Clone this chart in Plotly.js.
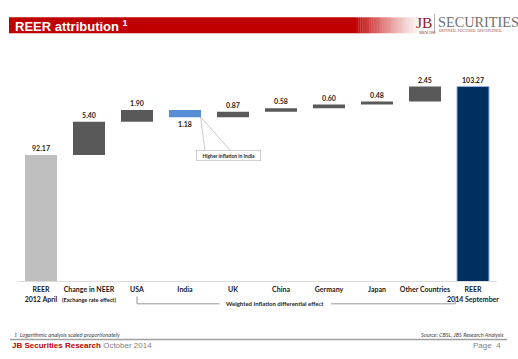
<!DOCTYPE html>
<html>
<head>
<meta charset="utf-8">
<script src="https://cdn.plot.ly/plotly-3.0.1.min.js"></script>
<style>html,body{margin:0;padding:0;background:#fff;}#chart{width:518px;height:359px;}</style>
</head>
<body>
<div id="chart"></div>
<script>
// ---- data ----
const categories = ['REER 2012 April', 'Change in NEER', 'USA', 'India', 'UK', 'China', 'Germany', 'Japan', 'Other Countries', 'REER 2014 September'];
const tickLabels = ['REER<br>2012 April', 'Change in NEER<br><span style="font-size:5.6px">(Exchange rate effect)</span>', 'USA', 'India', 'UK', 'China', 'Germany', 'Japan', 'Other Countries', 'REER<br>2014 September'];
const measures = ['absolute', 'relative', 'relative', 'relative', 'relative', 'relative', 'relative', 'relative', 'relative', 'total'];
const values = [92.17, 5.40, 1.90, -1.18, 0.87, 0.58, 0.60, 0.48, 2.45, 103.27];
const valueLabels = ['92.17', '5.40', '1.90', '1.18', '0.87', '0.58', '0.60', '0.48', '2.45', '103.27'];

// ---- derive waterfall geometry from data ----
const bases = [], heights = [], colors = [], lineW = [], lineC = [];
let running = 0;
values.forEach((v, i) => {
  const m = measures[i];
  if (m === 'absolute') { bases.push(0); heights.push(v); running = v; colors.push('#BFBFBF'); }
  else if (m === 'total') { bases.push(0); heights.push(v); running = v; colors.push('#00305F'); }
  else { bases.push(running); heights.push(v); running += v; colors.push(v < 0 ? '#558ED5' : '#595959'); }
  lineW.push(m === 'total' ? 1 : 0);
  lineC.push(m === 'total' ? '#8DB3E2' : 'rgba(0,0,0,0)');
});

// ---- pixel helpers for page decorations ----
const W = 518, H = 359, ML = 17, MR = 21, MT = 50, MB = 78;
const PW = W - ML - MR, PH = H - MT - MB;
const px = x => (x - ML) / PW;
const py = y => (H - MB - y) / PH;

const shapes = [];
// header red band with fade
shapes.push({type: 'rect', xref: 'paper', yref: 'paper', x0: px(9), x1: px(356), y0: py(33.3), y1: py(17.3), fillcolor: '#C00000', line: {width: 0}, layer: 'below'});
const nStrips = 30;
for (let k = 0; k < nStrips; k++) {
  const x0 = 356 + k * 2.2, x1 = x0 + 2.3;
  shapes.push({type: 'rect', xref: 'paper', yref: 'paper', x0: px(x0), x1: px(x1), y0: py(33.3), y1: py(17.3), fillcolor: '#C00000', opacity: Math.pow(1 - (k + 1) / (nStrips + 1), 1.3), line: {width: 0}, layer: 'below'});
}
// logo separator
shapes.push({type: 'line', xref: 'paper', yref: 'paper', x0: px(434.5), x1: px(434.5), y0: py(14), y1: py(33), line: {color: '#9A9A9A', width: 0.8}});
// bracket under inflation countries
const gy0 = py(296.5), gy1 = py(303.8);
const bcol = '#7F7F7F';
shapes.push({type: 'line', xref: 'x', yref: 'paper', x0: 2, x1: 2, y0: gy0, y1: gy1, line: {color: bcol, width: 0.8}});
shapes.push({type: 'line', xref: 'x', yref: 'paper', x0: 2, x1: 3.72, y0: gy1, y1: gy1, line: {color: bcol, width: 0.8}});
shapes.push({type: 'line', xref: 'x', yref: 'paper', x0: 6.04, x1: 8.63, y0: gy1, y1: gy1, line: {color: bcol, width: 0.8}});
shapes.push({type: 'line', xref: 'x', yref: 'paper', x0: 8.63, x1: 8.63, y0: gy0, y1: gy1, line: {color: bcol, width: 0.8}});
// callout lines from India bar
const indiaBottom = bases[3] + heights[3];
shapes.push({type: 'line', xref: 'x', yref: 'y', x0: 3.325, x1: 3.415, y0: indiaBottom, y1: 92.95, line: {color: '#A6A6A6', width: 0.6}});
shapes.push({type: 'line', xref: 'x', yref: 'y', x0: 3.33, x1: 3.94, y0: indiaBottom, y1: 92.95, line: {color: '#A6A6A6', width: 0.6}});
// footer rule
shapes.push({type: 'line', xref: 'paper', yref: 'paper', x0: px(10), x1: px(507), y0: py(339.5), y1: py(339.5), line: {color: '#A0A0A0', width: 1.5}});

const annotations = [
  {xref: 'paper', yref: 'paper', x: px(13), y: py(25.5), xanchor: 'left', yanchor: 'middle', showarrow: false,
   text: 'REER attribution <sup>1</sup>', font: {family: 'Liberation Sans, Arial', size: 13, color: '#FFFFFF', weight: 'bold'}},
  {xref: 'paper', yref: 'paper', x: px(433.5), y: py(22.5), xanchor: 'right', yanchor: 'middle', showarrow: false,
   text: 'JB', font: {family: 'Liberation Serif, DejaVu Serif', size: 15.5, color: '#8E1B1F'}},
  {xref: 'paper', yref: 'paper', x: px(435.5), y: py(22.5), xanchor: 'left', yanchor: 'middle', showarrow: false,
   text: 'SECURITIES', font: {family: 'Liberation Serif, DejaVu Serif', size: 14.3, color: '#707070'}},
  {xref: 'paper', yref: 'paper', x: px(437), y: py(31.3), xanchor: 'left', yanchor: 'middle', showarrow: false,
   text: 'DEFINED. FOCUSED. DISCIPLINED.', font: {family: 'Liberation Serif, DejaVu Serif', size: 3.9, color: '#9B4A4A'}},
  {xref: 'paper', yref: 'paper', x: px(427), y: py(32.6), xanchor: 'center', yanchor: 'middle', showarrow: false,
   text: 'SINCE 1991', font: {family: 'Liberation Sans, Arial', size: 3, color: '#8E1B1F'}},
  // India callout box
  {xref: 'x', yref: 'y', x: 3.9, y: 92.05, xanchor: 'center', yanchor: 'middle', showarrow: false,
   text: 'Higher inflation in India', font: {family: 'Lato, Open Sans', size: 5, color: '#262626', weight: 'bold'},
   bgcolor: '#FFFFFF', bordercolor: '#BFBFBF', borderwidth: 0.7, borderpad: 2, width: 60},
  // bracket label
  {xref: 'x', yref: 'paper', x: 4.88, y: gy1, xanchor: 'center', yanchor: 'middle', showarrow: false,
   text: 'Weighted Inflation differential effect', font: {family: 'Lato, Open Sans', size: 6, color: '#262626', weight: 'bold'}},
  // footers
  {xref: 'paper', yref: 'paper', x: px(12), y: py(334.5), xanchor: 'left', yanchor: 'middle', showarrow: false,
   text: '1&nbsp;&nbsp;Logarithmic analysis scaled proportionately', font: {family: 'Lato, Open Sans', size: 5.6, color: '#404040', style: 'italic'}},
  {xref: 'paper', yref: 'paper', x: px(506), y: py(334.5), xanchor: 'right', yanchor: 'middle', showarrow: false,
   text: 'Source: CBSL, JBS Research Analysis', font: {family: 'Lato, Open Sans', size: 5.5, color: '#404040', style: 'italic'}},
  {xref: 'paper', yref: 'paper', x: px(9.5), y: py(345.5), xanchor: 'left', yanchor: 'middle', showarrow: false,
   text: '<b><span style="color:#C00000">JB Securities Research</span></b> October 2014', font: {family: 'Liberation Sans, Arial', size: 8, color: '#7F7F7F'}},
  {xref: 'paper', yref: 'paper', x: px(503.5), y: py(345.5), xanchor: 'right', yanchor: 'middle', showarrow: false,
   text: 'Page&nbsp;&nbsp;4', font: {family: 'Liberation Sans, Arial', size: 8, color: '#7F7F7F'}}
];

const trace = {
  type: 'bar',
  x: categories,
  y: heights,
  base: bases,
  text: valueLabels,
  textposition: 'outside',
  textfont: {family: 'Lato, Open Sans', size: 7, color: '#262626', weight: 'bold'},
  constraintext: 'none',
  cliponaxis: false,
  marker: {color: colors, line: {width: lineW, color: lineC}},
  hoverinfo: 'skip'
};

const layout = {
  width: W, height: H,
  margin: {l: ML, r: MR, t: MT, b: MB, pad: 0},
  paper_bgcolor: '#FFFFFF', plot_bgcolor: '#FFFFFF',
  showlegend: false,
  bargap: 0.333,
  font: {family: 'Lato, Open Sans', color: '#262626'},
  xaxis: {
    type: 'category', tickmode: 'array', tickvals: categories, ticktext: tickLabels,
    tickfont: {family: 'Lato, Open Sans', size: 7, color: '#1A1A1A', weight: 'bold'},
    ticklabelstandoff: 2,
    showline: true, linecolor: '#DCDCDC', linewidth: 1, ticks: '', showgrid: false, zeroline: false,
    tickangle: 0, range: [-0.5, 9.5], fixedrange: true
  },
  yaxis: {range: [71.7, 109.2], visible: false, showgrid: false, zeroline: false, fixedrange: true},
  shapes: shapes,
  annotations: annotations
};

Plotly.newPlot('chart', [trace], layout, {displayModeBar: false, staticPlot: true});
</script>
</body>
</html>
